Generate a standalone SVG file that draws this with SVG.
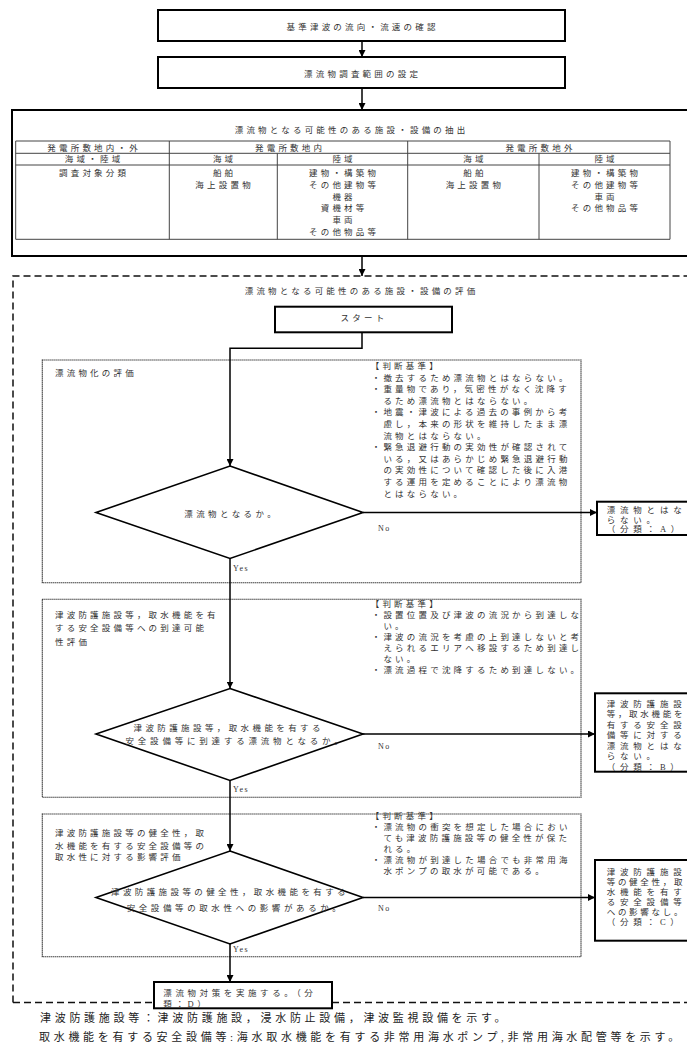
<svg xmlns="http://www.w3.org/2000/svg" width="687" height="1048" viewBox="0 0 687 1048">
<style>
text{font-family:"Liberation Serif","Noto Sans CJK JP",serif;fill:#333;dominant-baseline:central}
.t{font-size:8.5px;letter-spacing:3.2px}
.m{text-anchor:middle}
.dt{letter-spacing:3.4px}
.b{font-size:8.5px;letter-spacing:4.8px}
.b7{letter-spacing:2.7px}
.yn{font-size:8px;letter-spacing:1.5px}
.note{font-size:11px;fill:#222;letter-spacing:3.7px}
.box{fill:#fff;stroke:#000;stroke-width:2}
.tbl{fill:none;stroke:#444;stroke-width:1}
.dot{fill:none;stroke:#111;stroke-width:1.1;stroke-dasharray:1.2 0.8}
.dash{fill:none;stroke:#111;stroke-width:1.5;stroke-dasharray:7 4}
.dia{fill:#fff;stroke:#000;stroke-width:1.6}
.c{fill:none;stroke:#000;stroke-width:1.5}
</style>
<defs>
<marker id="ah" viewBox="0 0 7 7" refX="7" refY="3.5" markerWidth="7" markerHeight="7" markerUnits="userSpaceOnUse" orient="auto">
<path d="M0,0 L7,3.5 L0,7 z" fill="#000"/>
</marker>
</defs>

<g id="frame-eval">
<path class="dash" d="M13,1002.5 V276 H700"/>
<path class="dash" d="M13,1002.5 H700"/>
<text class="t m" x="361.6" y="290.7">漂流物となる可能性のある施設・設備の評価</text>
</g>

<g id="box1">
<rect class="box" x="158" y="10" width="407" height="31"/>
<text class="t m" x="362.6" y="27">基準津波の流向・流速の確認</text>
</g>
<g id="box2">
<rect class="box" x="158" y="57" width="407" height="31"/>
<text class="t m" x="362.6" y="73.5">漂流物調査範囲の設定</text>
</g>

<g id="box3">
<rect class="box" x="12" y="110" width="690" height="146"/>
<text class="t m" x="351.6" y="130">漂流物となる可能性のある施設・設備の抽出</text>
<path class="tbl" d="M15.7,141 H670 V239.3 H15.7 Z M15.7,153.3 H670 M15.7,165 H670 M169.3,141 V239.3 M407.7,141 V239.3 M277.3,153.3 V239.3 M539,153.3 V239.3"/>
<text class="t m" x="94.1" y="147.5">発電所敷地内・外</text>
<text class="t m" x="290.1" y="147.5">発電所敷地内</text>
<text class="t m" x="540.5" y="147.5">発電所敷地外</text>
<text class="t m" x="94.1" y="159">海域・陸域</text>
<text class="t m" x="224.6" y="159">海域</text>
<text class="t m" x="344.1" y="159">陸域</text>
<text class="t m" x="474.9" y="159">海域</text>
<text class="t m" x="606.1" y="159">陸域</text>
<text class="t m" x="94.1" y="173.3">調査対象分類</text>
<text class="t m" x="224.6" y="173.3">船舶</text>
<text class="t m" x="224.6" y="185">海上設置物</text>
<text class="t m" x="344.1" y="173.3">建物・構築物</text>
<text class="t m" x="344.1" y="185">その他建物等</text>
<text class="t m" x="344.1" y="196.7">機器</text>
<text class="t m" x="344.1" y="208.3">資機材等</text>
<text class="t m" x="344.1" y="220">車両</text>
<text class="t m" x="344.1" y="231.7">その他物品等</text>
<text class="t m" x="474.9" y="173.3">船舶</text>
<text class="t m" x="474.9" y="185">海上設置物</text>
<text class="t m" x="606.1" y="173.3">建物・構築物</text>
<text class="t m" x="606.1" y="185">その他建物等</text>
<text class="t m" x="606.1" y="196.7">車両</text>
<text class="t m" x="606.1" y="208.3">その他物品等</text>
</g>

<g id="start">
<rect class="box" x="275" y="306.7" width="177" height="25.6"/>
<text class="t m" x="364" y="318">スタート</text>
</g>

<g id="stage1">
<rect class="dot" x="42.3" y="360" width="538.7" height="222.7"/>
<text class="t" x="55" y="372.7">漂流物化の評価</text>
<text class="t" x="370.7" y="366">【判断基準】</text>
<text class="t" x="371.7" y="377.6">・撤去するため漂流物とはならない。</text>
<text class="t" x="371.7" y="389.2">・重量物であり，気密性がなく沈降す</text>
<text class="t" x="383.4" y="400.8">るため漂流物とはならない。</text>
<text class="t" x="371.7" y="412.4">・地震・津波による過去の事例から考</text>
<text class="t" x="383.4" y="424">慮し，本来の形状を維持したまま漂</text>
<text class="t" x="383.4" y="435.6">流物とはならない。</text>
<text class="t" x="371.7" y="447.2">・緊急退避行動の実効性が確認されて</text>
<text class="t" x="383.4" y="458.8">いる，又はあらかじめ緊急退避行動</text>
<text class="t" x="383.4" y="470.4">の実効性について確認した後に入港</text>
<text class="t" x="383.4" y="482">する運用を定めることにより漂流物</text>
<text class="t" x="383.4" y="493.6">とはならない。</text>
</g>
<g id="dec1">
<polygon class="dia" points="230,466 363,512.5 230,558.5 96,512.5"/>
<text class="t m dt" x="231.7" y="514">漂流物となるか。</text>
</g>
<g id="resA">
<rect class="box" x="597" y="501.7" width="100" height="33.3"/>
<text class="b" x="606.7" y="510">漂流物とはな</text>
<text class="b" x="606.7" y="519.5">らない。</text>
<text class="b" x="606.7" y="529">（分類：A）</text>
</g>

<g id="stage2">
<rect class="dot" x="42.3" y="599.3" width="538.7" height="198"/>
<text class="t" x="55" y="615">津波防護施設等，取水機能を有</text>
<text class="t" x="55" y="628.3">する安全設備等への到達可能</text>
<text class="t" x="55" y="641.7">性評価</text>
<text class="t" x="370.7" y="603.5">【判断基準】</text>
<text class="t" x="371.7" y="614.6">・設置位置及び津波の流況から到達しな</text>
<text class="t" x="383.4" y="625.7">い。</text>
<text class="t" x="371.7" y="636.8">・津波の流況を考慮の上到達しないと考</text>
<text class="t" x="383.4" y="647.9">えられるエリアへ移設するため到達し</text>
<text class="t" x="383.4" y="659">ない。</text>
<text class="t" x="371.7" y="670.1">・漂流過程で沈降するため到達しない。</text>
</g>
<g id="dec2">
<polygon class="dia" points="230,688.5 363,734 230,780.5 96,734"/>
<text class="t m dt" x="228.7" y="728.3">津波防護施設等，取水機能を有する</text>
<text class="t m" x="236" y="741" style="letter-spacing:3.8px">安全設備等に到達する漂流物となるか。</text>
</g>
<g id="resB">
<rect class="box" x="595" y="693.3" width="100" height="78.4"/>
<text class="b" x="606.7" y="703.5">津波防護施設</text>
<text class="b b7" x="606.7" y="714">等，取水機能を</text>
<text class="b" x="606.7" y="724.5">有する安全設</text>
<text class="b" x="606.7" y="735">備等に対する</text>
<text class="b" x="606.7" y="745.5">漂流物とはな</text>
<text class="b" x="606.7" y="756">らない。</text>
<text class="b" x="606.7" y="766.5">（分類：B）</text>
</g>

<g id="stage3">
<rect class="dot" x="42.3" y="814" width="538.7" height="142.7"/>
<text class="t" x="55" y="833.3">津波防護施設等の健全性，取</text>
<text class="t" x="55" y="846">水機能を有する安全設備等の</text>
<text class="t" x="55" y="857.3">取水性に対する影響評価</text>
<text class="t" x="370.7" y="816">【判断基準】</text>
<text class="t" x="371.7" y="827">・漂流物の衝突を想定した場合におい</text>
<text class="t" x="383.4" y="838">ても津波防護施設等の健全性が保た</text>
<text class="t" x="383.4" y="849">れる。</text>
<text class="t" x="371.7" y="860">・漂流物が到達した場合でも非常用海</text>
<text class="t" x="383.4" y="871">水ポンプの取水が可能である。</text>
</g>
<g id="dec3">
<polygon class="dia" points="230,851 363,897.5 230,944 96,897.5"/>
<text class="t m dt" x="230" y="891.7">津波防護施設等の健全性，取水機能を有する</text>
<text class="t m" x="235.5" y="908.3" style="letter-spacing:3.6px">安全設備等の取水性への影響があるか。</text>
</g>
<g id="resC">
<rect class="box" x="595" y="860" width="100" height="80.7"/>
<text class="b" x="606.7" y="871.7">津波防護施設</text>
<text class="b b7" x="606.7" y="881.7">等の健全性，取</text>
<text class="b" x="606.7" y="891.7">水機能を有す</text>
<text class="b" x="606.7" y="901.7">る安全設備等</text>
<text class="b b7" x="606.7" y="911.7">への影響なし。</text>
<text class="b" x="606.7" y="921.7">（分類：C）</text>
</g>

<g id="resD">
<rect class="box" x="154" y="982" width="178" height="26.3"/>
<text class="t" style="letter-spacing:3.6px" x="163.3" y="993.3">漂流物対策を実施する。（分</text>
<text class="t" style="letter-spacing:3.6px" x="163.3" y="1004">類：D）</text>
</g>

<g id="connectors">
<path class="c" marker-end="url(#ah)" d="M362,41 V57"/>
<path class="c" marker-end="url(#ah)" d="M362,88 V110"/>
<path class="c" marker-end="url(#ah)" d="M362,256 V276"/>
<path class="c" marker-end="url(#ah)" d="M362,332.3 V348.3 H230 V466"/>
<path class="c" marker-end="url(#ah)" d="M230,558.5 V688.5"/>
<path class="c" marker-end="url(#ah)" d="M230,780.5 V851"/>
<path class="c" marker-end="url(#ah)" d="M230,944 V982"/>
<path class="c" marker-end="url(#ah)" d="M363,512.5 H597"/>
<path class="c" marker-end="url(#ah)" d="M363,734 H595"/>
<path class="c" marker-end="url(#ah)" d="M363,897.5 H595"/>
<text class="yn" x="233" y="568.3">Yes</text>
<text class="yn" x="233" y="789">Yes</text>
<text class="yn" x="233" y="949.3">Yes</text>
<text class="yn" x="378" y="528.3">No</text>
<text class="yn" x="378" y="746.7">No</text>
<text class="yn" x="378" y="908.3">No</text>
</g>

<g id="notes">
<text class="note" x="40" y="1018.3">津波防護施設等：津波防護施設，浸水防止設備，津波監視設備を示す。</text>
<text class="note" x="39" y="1037.3">取水機能を有する安全設備等:海水取水機能を有する非常用海水ポンプ,非常用海水配管等を示す。</text>
</g>
</svg>
